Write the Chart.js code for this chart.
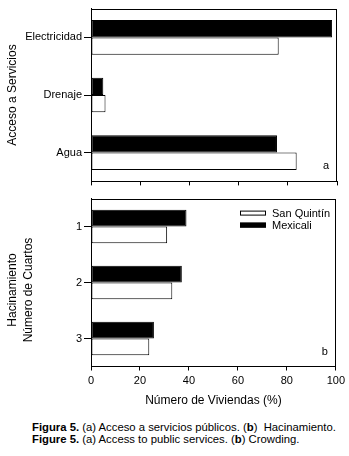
<!DOCTYPE html>
<html>
<head>
<meta charset="utf-8">
<script src="https://cdn.jsdelivr.net/npm/chart.js@4/dist/chart.umd.min.js"></script>
<style>
  body { margin: 0; background: #fff; font-family: "Liberation Sans", Arial, sans-serif; }
  #wrap { position: relative; width: 349px; height: 456px; }
  canvas { position: absolute; left: 0; }
  #top { top: 0; }
  #bottom { top: 190px; }
  .ytitle { position: absolute; font-size: 12px; color: #000; white-space: nowrap;
            transform: translate(-50%, -50%) rotate(-90deg); line-height: 14px; }
  #caption { position: absolute; left: 32px; top: 421px; font-size: 11.3px; line-height: 12px; color: #000; white-space: nowrap; }
</style>
</head>
<body>
<div id="wrap">
  <canvas id="top" width="349" height="190"></canvas>
  <canvas id="bottom" width="349" height="220"></canvas>
  <div class="ytitle" style="left:12px; top:290px;">Hacinamiento</div>
  <div class="ytitle" style="left:28px; top:290px;">Número de Cuartos</div>
  <div id="caption">
    <div><b>Figura 5.</b> (a) Acceso a servicios públicos. (<b>b</b>)&nbsp; Hacinamiento.</div>
    <div><b>Figure 5.</b> (a) Access to public services. (<b>b</b>) Crowding.</div>
  </div>
</div>
<script>
// panel a: access to services
const serviceCats = ['Electricidad', 'Drenaje', 'Agua'];
const serviceMexicali = [98, 5, 75.6];
const serviceSanQuintin = [76.3, 5.9, 83.6];

// panel b: crowding (number of rooms)
const roomCats = ['1', '2', '3'];
const roomMexicali = [39, 37.1, 25.7];
const roomSanQuintin = [31.1, 33.2, 23.8];

const xTicks = [0, 20, 40, 60, 80, 100];

const FONT = "'Liberation Sans', Arial, sans-serif";

// full box around the plot + panel letter
function boxPlugin(letter) {
    return {
        id: 'box',
        afterDraw(chart) {
            const a = chart.chartArea;
            const ctx = chart.ctx;
            ctx.save();
            ctx.strokeStyle = '#000';
            ctx.lineWidth = 1;
            ctx.strokeRect(Math.round(a.left) + 0.5, Math.round(a.top) + 0.5,
                Math.round(a.right - a.left) - 1, Math.round(a.bottom - a.top) - 1);
            ctx.fillStyle = '#000';
            ctx.font = '11px ' + FONT;
            ctx.textAlign = 'center';
            ctx.textBaseline = 'middle';
            ctx.fillText(letter, a.right - 11, a.bottom - 15);
            ctx.restore();
        }
    };
}

const legendPlugin = {
    id: 'boxLegend',
    afterDraw(chart) {
        const a = chart.chartArea;
        const ctx = chart.ctx;
        // San Quintín first, then Mexicali
        const items = [chart.data.datasets[1], chart.data.datasets[0]];
        ctx.save();
        ctx.font = '11px ' + FONT;
        ctx.textBaseline = 'middle';
        items.forEach(function(ds, i) {
            const y = a.top + 12 + i * 12;
            ctx.fillStyle = ds.backgroundColor;
            ctx.fillRect(a.left + 149, y, 26, 5);
            ctx.strokeStyle = '#000';
            ctx.lineWidth = 1;
            ctx.strokeRect(a.left + 149.5, y + 0.5, 25, 4);
            ctx.fillStyle = '#000';
            ctx.fillText(ds.label, a.left + 181, y + 3);
        });
        ctx.restore();
    }
};

function makeDatasets(mex, sq) {
    return [
        { label: 'Mexicali', data: mex, backgroundColor: '#000', borderColor: '#000', borderWidth: 1, borderSkipped: false },
        { label: 'San Quintín', data: sq, backgroundColor: '#fff', borderColor: '#000', borderWidth: 1, borderSkipped: false }
    ];
}

function xScale(showLabels, height, title) {
    return {
        type: 'linear',
        min: 0,
        max: 100,
        afterBuildTicks(s) { s.ticks = xTicks.map(v => ({ value: v })); },
        afterFit(s) { s.height = height; },
        ticks: {
            color: '#000',
            font: { size: 11, family: FONT },
            padding: 4,
            maxRotation: 0,
            callback: v => showLabels ? v : ''
        },
        grid: { display: true, drawOnChartArea: false, drawTicks: true, tickLength: 4, color: '#000' },
        border: { display: true, color: '#000', width: 1 },
        title: title ? { display: true, text: title, color: '#000', font: { size: 12, family: FONT }, padding: { top: 0, bottom: 2 } } : { display: false }
    };
}

function yScale(title) {
    return {
        afterFit(s) { s.width = 91; },
        ticks: { color: '#000', font: { size: 11, family: FONT }, padding: 2 },
        grid: { display: true, drawOnChartArea: false, drawTicks: true, tickLength: 7, color: '#000', offset: false },
        border: { display: true, color: '#000', width: 1 },
        title: title ? { display: true, text: title, color: '#000', font: { size: 12, family: FONT }, padding: { top: 5, bottom: 0 } } : { display: false }
    };
}

new Chart(document.getElementById('top'), {
    type: 'bar',
    data: { labels: serviceCats, datasets: makeDatasets(serviceMexicali, serviceSanQuintin) },
    options: {
        indexAxis: 'y',
        responsive: false,
        animation: false,
        categoryPercentage: 0.6,
        barPercentage: 1,
        layout: { padding: { left: 0, right: 12, top: 6, bottom: 0 } },
        plugins: { legend: { display: false }, tooltip: { enabled: false } },
        scales: {
            x: xScale(false, 8, null),
            y: yScale('Acceso a Servicios')
        }
    },
    plugins: [boxPlugin('a')]
});

new Chart(document.getElementById('bottom'), {
    type: 'bar',
    data: { labels: roomCats, datasets: makeDatasets(roomMexicali, roomSanQuintin) },
    options: {
        indexAxis: 'y',
        responsive: false,
        animation: false,
        categoryPercentage: 0.6,
        barPercentage: 1,
        layout: { padding: { left: 0, right: 12, top: 3, bottom: 0 } },
        plugins: { legend: { display: false }, tooltip: { enabled: false } },
        scales: {
            x: xScale(true, 43.5, 'Número de Viviendas (%)'),
            y: yScale(null)
        }
    },
    plugins: [boxPlugin('b'), legendPlugin]
});
</script>
</body>
</html>
